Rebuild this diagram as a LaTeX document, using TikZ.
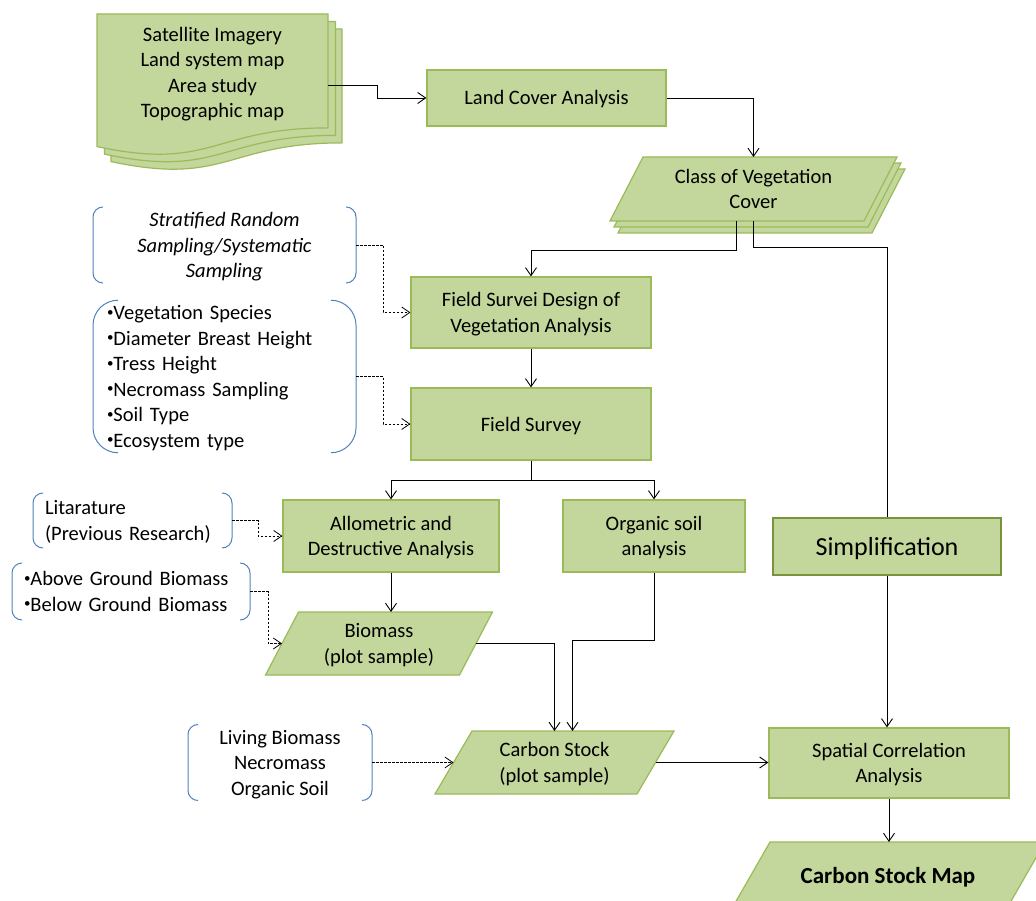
\documentclass[tikz,border=0pt]{standalone}
\usepackage{fontspec}
\setmainfont{Carlito}
\usetikzlibrary{arrows.meta,backgrounds,calc}
\definecolor{boxfill}{HTML}{C3D69B}
\definecolor{boxline}{HTML}{9BBB59}
\definecolor{boxdark}{HTML}{77933C}
\definecolor{bracketblue}{HTML}{4F81BD}

% parallelogram behind a node: node, slant, right offset, down offset
\newcommand\paraat[4]{%
  \filldraw[shapefill]
    ([xshift=#2/2+#3,yshift=-#4]#1.north west) --
    ([xshift=#2/2+#3,yshift=-#4]#1.north east) --
    ([xshift=-#2/2+#3,yshift=-#4]#1.south east) --
    ([xshift=-#2/2+#3,yshift=-#4]#1.south west) -- cycle;}

% pair of rounded brackets on the sides of a node: node, corner radius
\newcommand\bracketpair[2]{%
  \draw[bracket, rounded corners=#2pt]
    ([xshift=#2pt]#1.north west) -- (#1.north west) -- (#1.south west) -- ([xshift=#2pt]#1.south west);
  \draw[bracket, rounded corners=#2pt]
    ([xshift=-#2pt]#1.north east) -- (#1.north east) -- (#1.south east) -- ([xshift=-#2pt]#1.south east);}

% line strut with the font's full ascent and descent
\newcommand\lstrut{\rule[-0.269em]{0pt}{1.221em}}
% small list bullet
\newcommand\bul{\raisebox{0.17em}{\fontsize{13}{13}\selectfont•}}

\begin{document}
\fontsize{20.5}{25.5}\selectfont
\begin{tikzpicture}[x=1pt,y=-1pt,
  >={Straight Barb[length=8pt,width=11pt]},
  every node/.append style={execute at begin node=\lstrut, execute at end node=\lstrut},
  box/.style={draw=boxline, fill=boxfill, line width=1.2pt, align=center, inner sep=0pt},
  shapetext/.style={align=center, inner sep=0pt, outer sep=0pt},
  shapefill/.style={draw=boxline, fill=boxfill, line width=1.2pt},
  brnode/.style={inner sep=0pt, outer sep=0pt},
  bracket/.style={draw=bracketblue, line width=1pt},
  flow/.style={draw=black, line width=0.9pt, ->},
  plainline/.style={draw=black, line width=0.9pt},
  dflow/.style={draw=black, line width=0.8pt, dash pattern=on 2.5pt off 1.5pt, ->}]

\useasboundingbox (0,0) rectangle (1036,901);

% process nodes
\node[shapetext, minimum width=231, minimum height=117] (docs) at (212.5,72.5)
  {\lstrut Satellite Imagery\\Land system map\\Area study\\Topographic map};
\node[box, minimum width=239, minimum height=56] (land) at (546.5,98) {Land Cover Analysis};
\node[shapetext, minimum width=254, minimum height=64] (cls) at (753.5,189) {\lstrut Class of Vegetation\\Cover};
\node[box, minimum width=240, minimum height=71] (design) at (531,312.5) {\lstrut Field Survei Design of\\Vegetation Analysis};
\node[box, minimum width=240, minimum height=72] (survey) at (531,424) {Field Survey};
\node[box, minimum width=216, minimum height=72] (allo) at (391,536) {\lstrut Allometric and\\Destructive Analysis};
\node[box, minimum width=182, minimum height=72] (org) at (654,536) {\lstrut Organic soil\\analysis};
\node[box, draw=boxdark, line width=2.5pt, minimum width=228, minimum height=57,
  font=\fontsize{26}{30}\selectfont] (simp) at (887,546.5) {Simplification};
\node[shapetext, minimum width=194, minimum height=63] (bio) at (379,643.5) {\lstrut Biomass\\(plot sample)};
\node[shapetext, minimum width=202, minimum height=63] (cstock) at (554.5,762.5) {\lstrut Carbon Stock\\(plot sample)};
\node[box, minimum width=240, minimum height=70] (spatial) at (889,763) {\lstrut Spatial Correlation\\Analysis};
\node[shapetext, minimum width=275, minimum height=68,
  font=\fontsize{23}{27}\selectfont\bfseries] (map) at (888,876) {Carbon Stock Map};

% bracketed notes
\node[brnode, minimum width=263, minimum height=64, align=center, font=\itshape] (strat) at (224.5,245)
  {\lstrut Stratified Random\\Sampling/Systematic\\Sampling};
\node[brnode, minimum width=263, minimum height=149, text width=235, align=left, inner xsep=14pt] (traits) at (224.5,376.5)
  {\lstrut\bul Vegetation Species\\\bul Diameter Breast Height\\\bul Tress Height\\\bul Necromass Sampling\\\bul Soil Type\\\bul Ecosystem type};
\node[brnode, minimum width=199, minimum height=55, text width=175, align=left, inner xsep=12pt] (lit) at (132.5,520.5)
  {\lstrut Litarature\\(Previous Research)};
\node[brnode, minimum width=236, minimum height=57, text width=214, align=left, inner xsep=12pt] (agb) at (131,591.5)
  {\lstrut\bul Above Ground Biomass\\\bul Below Ground Biomass};
\node[brnode, minimum width=184, minimum height=63, align=center] (living) at (280,762.5)
  {\lstrut Living Biomass\\Necromass\\Organic Soil};

\bracketpair{strat}{10}
\bracketpair{traits}{25}
\bracketpair{lit}{10}
\bracketpair{agb}{10}
\bracketpair{living}{10}

% shapes behind the text nodes
\begin{pgfonlayer}{background}
  \foreach \dx/\dy in {14/15, 7.5/7.5, 0/0} {
    \begin{scope}[shift={(\dx,\dy)}]
      \filldraw[shapefill] (97,14) -- (328,14) -- (328,127.9)
        .. controls (212.5,127.9) and (212.5,171.3) .. (97,146.6) -- cycle;
    \end{scope}
  }
  \paraat{cls}{33}{8}{12}
  \paraat{cls}{33}{4}{6}
  \paraat{cls}{33}{0}{0}
  \paraat{bio}{33}{0}{0}
  \paraat{cstock}{37}{0}{0}
  \paraat{map}{39}{0}{0}
\end{pgfonlayer}

% connectors
\draw[flow] ([yshift=-12.5pt]docs.east) -- ++(49,0) |- (land.west);
\draw[flow] (land.east) -| (cls.north);
\draw[flow] ([xshift=-17pt]cls.south) -- ++(0,29) -| (design.north);
\draw[plainline] (cls.south) -- ++(0,26) -| (simp.north);
\draw[flow] (design.south) -- (survey.north);
\draw[flow] (survey.south) -- ++(0,20) -| (allo.north);
\draw[flow] (survey.south) -- ++(0,20) -| (org.north);
\draw[flow] (allo.south) -- (allo.south |- bio.north);
\draw[flow] (bio.east) -| (cstock.north);
\draw[flow] (org.south) -- ++(0,68) -| ([xshift=18pt]cstock.north);
\draw[flow] (cstock.east) -- (cstock.east -| spatial.west);
\draw[flow] (simp.south) -- (simp.south |- spatial.north);
\draw[flow] (spatial.south) -- (spatial.south |- map.north);

% dashed note connectors
\draw[dflow] (strat.east) -- ++(27,0) |- (design.west);
\draw[dflow] (traits.east) -- ++(27,0) |- (survey.west);
\draw[dflow] (lit.east) -- ++(26,0) |- (allo.west);
\draw[dflow] (agb.east) -- ++(18,0) |- (bio.west);
\draw[dflow] (living.east) -- (cstock.west);
\end{tikzpicture}
\end{document}
